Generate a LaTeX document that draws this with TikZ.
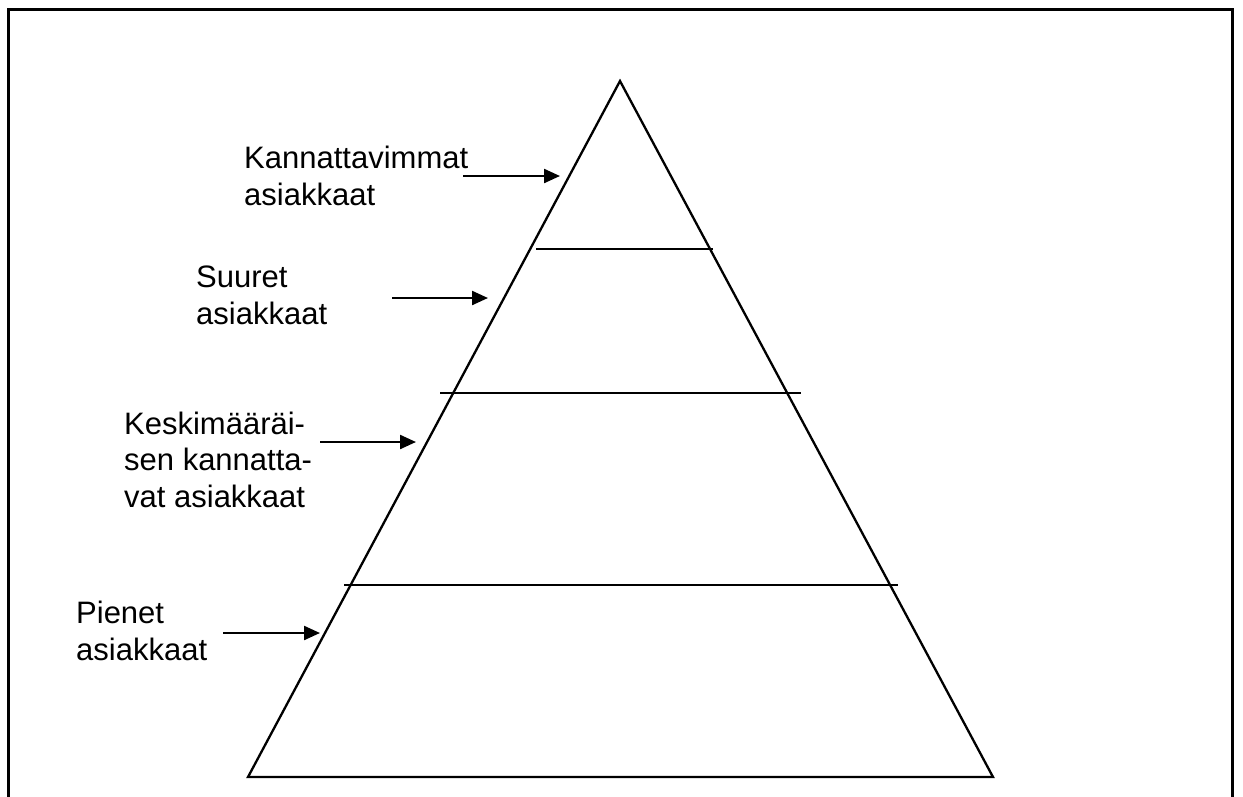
\documentclass[tikz,border=0pt]{standalone}
\usepackage{fontspec}
\setmainfont{Liberation Sans}
\usetikzlibrary{arrows.meta}
\begin{document}
\begin{tikzpicture}[x=1pt,y=-1pt,
  lbl/.style={anchor=base west,inner sep=0pt,align=left,font=\fontsize{31}{36.5}\selectfont},
  pointer/.style={line width=2.3pt,-{Triangle[length=16pt,width=14pt]}},
  edge/.style={line width=2.3pt},
  frame/.style={line width=3pt}]
\useasboundingbox (0,0) rectangle (1243,796);
% frame (no bottom edge)
\draw[frame] (8,800) -- (8,9) -- (1232,9) -- (1232,800);
% pyramid
\coordinate (apex) at (620,81);
\coordinate (bl) at (248,777);
\coordinate (br) at (993,777);
\draw[edge,line join=miter] (apex) -- (br) -- (bl) -- cycle;
\coordinate (l1a) at (536,249); \coordinate (l1b) at (713,249);
\coordinate (l2a) at (440,393); \coordinate (l2b) at (801,393);
\coordinate (l3a) at (344,585); \coordinate (l3b) at (898,585);
\draw[edge] (l1a) -- (l1b);
\draw[edge] (l2a) -- (l2b);
\draw[edge] (l3a) -- (l3b);
% labels (base anchor = baseline of last line)
\node[lbl] (t1) at (244,205) {Kannattavimmat\\asiakkaat};
\node[lbl] (t2) at (196,324) {Suuret\\asiakkaat};
\node[lbl] (t3) at (124,507) {Keskimääräi-\\sen kannatta-\\vat asiakkaat};
\node[lbl] (t4) at (76,660) {Pienet\\asiakkaat};
% arrows
\coordinate (a1s) at (463,176); \coordinate (a1e) at (560,176);
\coordinate (a2s) at (392,298); \coordinate (a2e) at (488,298);
\coordinate (a3s) at (320,442); \coordinate (a3e) at (416,442);
\coordinate (a4s) at (223,633); \coordinate (a4e) at (320,633);
\draw[pointer] (a1s) -- (a1e);
\draw[pointer] (a2s) -- (a2e);
\draw[pointer] (a3s) -- (a3e);
\draw[pointer] (a4s) -- (a4e);
\end{tikzpicture}
\end{document}
